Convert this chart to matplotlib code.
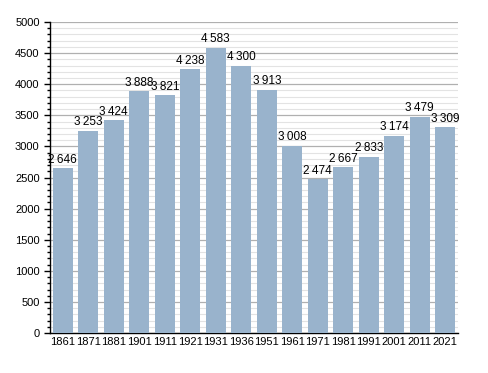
import matplotlib
matplotlib.use("Agg")
import matplotlib.pyplot as plt
from matplotlib.ticker import MultipleLocator

# -- Data ---------------------------------------------------------------------
years = ["1861", "1871", "1881", "1901", "1911", "1921", "1931", "1936",
         "1951", "1961", "1971", "1981", "1991", "2001", "2011", "2021"]
population = [2646, 3253, 3424, 3888, 3821, 4238, 4583, 4300,
              3913, 3008, 2474, 2667, 2833, 3174, 3479, 3309]

BAR_COLOR = "#99b3cc"

plt.rcParams["font.family"] = ["Liberation Sans", "DejaVu Sans"]

fig = plt.figure(figsize=(4.88, 3.73), dpi=100)
ax = fig.add_axes([0.1025, 0.107, 0.836, 0.834])

x = range(len(years))
bars = ax.bar(x, population, width=0.8, color=BAR_COLOR, zorder=3)

for bar, val in zip(bars, population):
    label = f"{val:,}".replace(",", "\u2009")
    ax.text(bar.get_x() + bar.get_width() / 2, val + 40, label,
            ha="center", va="bottom", fontsize=8.5, color="black", zorder=4)

ax.set_xlim(-0.5, len(years) - 0.5)
ax.set_ylim(0, 5000)
ax.set_xticks(list(x))
ax.set_xticklabels(years, fontsize=8)
ax.yaxis.set_major_locator(MultipleLocator(500))
ax.yaxis.set_minor_locator(MultipleLocator(100))
ax.tick_params(axis="y", labelsize=8, length=4, width=1)
ax.tick_params(axis="y", which="minor", length=2, width=1)
ax.tick_params(axis="x", length=0, pad=3)

ax.grid(axis="y", which="major", color="#b0b0b0", linewidth=0.9, zorder=0)
ax.grid(axis="y", which="minor", color="#e3e3e3", linewidth=0.8, zorder=0)

for side in ("top", "right"):
    ax.spines[side].set_visible(False)
ax.spines["left"].set_linewidth(1)
ax.spines["bottom"].set_linewidth(1)

fig.savefig("out.png", dpi=100)
